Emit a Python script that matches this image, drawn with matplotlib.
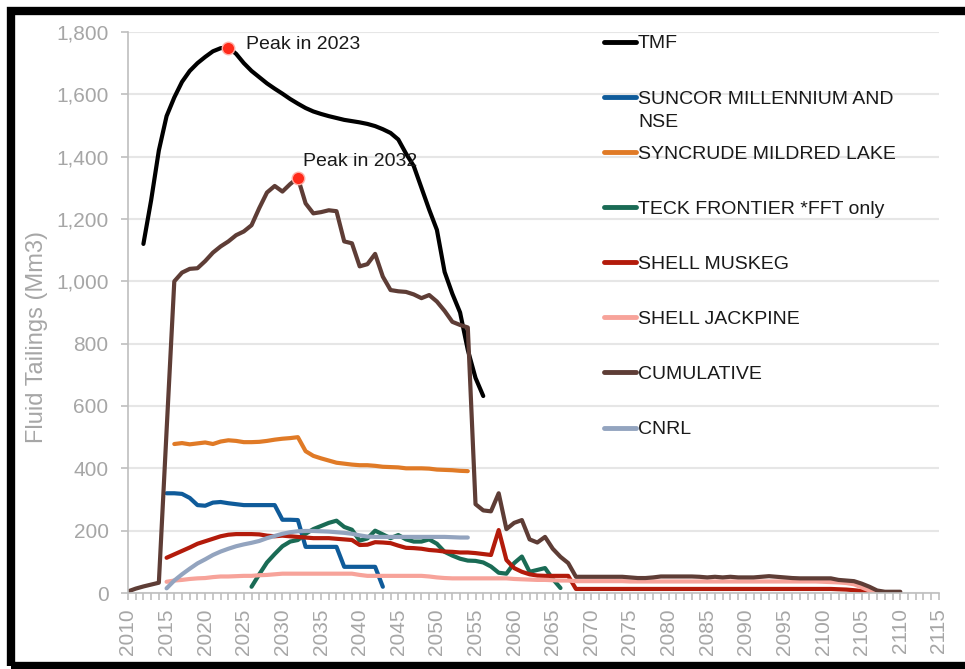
import matplotlib

matplotlib.use("Agg")

import matplotlib.pyplot as plt  # noqa: E402
import numpy as np  # noqa: E402
from matplotlib.patches import Rectangle  # noqa: E402
from matplotlib.ticker import MultipleLocator, StrMethodFormatter  # noqa: E402

plt.rcParams["font.family"] = ["Liberation Sans", "DejaVu Sans"]

# 数据（从图上读出，按年）
tmf_start = 2012
tmf = [1120, 1260, 1420, 1530, 1590, 1640, 1675, 1700, 1720, 1738,
       1748, 1750, 1730, 1700, 1675, 1655, 1635, 1618, 1602, 1585,
       1570, 1556, 1545, 1537, 1530, 1524, 1518, 1514, 1510, 1505,
       1498, 1488, 1476, 1455, 1410, 1370, 1300, 1230, 1165, 1030,
       960, 900, 780, 690, 632]

suncor_start = 2015
suncor = [320, 320, 318, 305, 282, 280, 290, 292, 288, 285,
          282, 282, 282, 282, 282, 235, 235, 234, 148, 148,
          148, 148, 148, 84, 84, 84, 84, 84, 20]

syncrude_start = 2016
syncrude = [478, 481, 477, 480, 483, 478, 486, 490, 488, 484,
            484, 485, 488, 492, 495, 497, 500, 455, 440, 432,
            425, 418, 415, 412, 410, 410, 408, 405, 404, 403,
            400, 400, 400, 399, 396, 395, 394, 392, 391]

teck_start = 2026
teck = [20, 60, 98, 125, 150, 165, 170, 190, 205, 215,
        225, 232, 212, 203, 168, 175, 200, 188, 176, 186,
        172, 165, 165, 172, 158, 132, 120, 110, 104, 103,
        98, 85, 65, 62, 96, 117, 68, 74, 80, 45,
        16]

muskeg_start = 2015
muskeg = [113, 124, 135, 146, 158, 166, 174, 182, 187, 189,
          189, 189, 188, 184, 182, 184, 182, 180, 178, 176,
          176, 176, 174, 172, 170, 154, 155, 163, 162, 160,
          152, 145, 144, 142, 138, 136, 133, 132, 130, 130,
          128, 125, 122, 202, 106, 80, 68, 60, 56, 55,
          55, 55, 55, 13, 13, 13, 13, 13, 13, 13,
          13, 13, 13, 13, 13, 13, 13, 13, 13, 13,
          13, 13, 13, 13, 13, 13, 13, 13, 13, 13,
          13, 13, 13, 13, 13, 13, 13, 12, 11, 9,
          6, 3]

jackpine_start = 2015
jackpine = [36, 40, 42, 45, 47, 48, 51, 53, 53, 54,
            55, 55, 57, 58, 60, 62, 62, 62, 62, 62,
            62, 62, 62, 62, 62, 58, 55, 55, 55, 55,
            55, 55, 55, 55, 53, 50, 48, 47, 47, 47,
            47, 47, 47, 47, 47, 45, 44, 43, 42, 42,
            41, 40, 40, 38, 38, 38, 38, 38, 38, 38,
            37, 37, 37, 37, 37, 37, 37, 37, 37, 37,
            37, 37, 37, 37, 37, 37, 37, 37, 37, 37,
            37, 37, 37, 37, 37, 36, 35, 34, 32, 28,
            18, 8, 2]

cumulative_start = 2010
cumulative = [5, 14, 21, 27, 33, 520, 1000, 1028, 1040, 1042,
              1065, 1092, 1112, 1128, 1148, 1160, 1180, 1235, 1285, 1306,
              1288, 1312, 1332, 1250, 1218, 1222, 1228, 1225, 1128, 1122,
              1048, 1055, 1088, 1015, 972, 968, 966, 958, 946, 956,
              935, 905, 870, 860, 852, 285, 265, 262, 320, 205,
              225, 234, 172, 162, 180, 142, 116, 96, 52, 52,
              52, 52, 52, 52, 52, 50, 48, 48, 50, 53,
              53, 53, 53, 53, 52, 50, 52, 50, 52, 50,
              50, 50, 52, 54, 52, 50, 48, 47, 47, 47,
              47, 47, 42, 40, 38, 30, 20, 8, 4, 4,
              4]

cnrl_start = 2015
cnrl = [15, 40, 60, 78, 95, 108, 122, 133, 142, 150,
        156, 161, 167, 176, 183, 190, 195, 198, 199, 199,
        198, 197, 195, 193, 190, 185, 181, 180, 180, 180,
        180, 180, 180, 180, 180, 180, 180, 179, 178, 178]

labels = ["TMF", "SUNCOR MILLENNIUM AND", "SYNCRUDE MILDRED LAKE",
          "TECK FRONTIER *FFT only", "SHELL MUSKEG", "SHELL JACKPINE",
          "CUMULATIVE", "CNRL"]
colors = ["#000000", "#0F5B9A", "#E07A26", "#1A6B55",
          "#B31B0B", "#F7A39A", "#5E3D36", "#93A4BF"]

peak_years = [2023, 2032]
peak_values = [1750, 1332]
peak_labels = ["Peak in 2023", "Peak in 2032"]

series = [(tmf_start, tmf), (suncor_start, suncor), (syncrude_start, syncrude),
          (teck_start, teck), (muskeg_start, muskeg), (jackpine_start, jackpine),
          (cumulative_start, cumulative), (cnrl_start, cnrl)]

GRAY = "#A6A6A6"

fig = plt.figure(figsize=(9.65, 6.69), dpi=100)
ax = fig.add_axes([0.1326, 0.1136, 0.8404, 0.8386])

for (start, vals), lab, col in zip(series, labels, colors):
    years = np.arange(start, start + len(vals))
    ax.plot(years, vals, color=col, lw=3, label=lab, solid_joinstyle="round",
            solid_capstyle="round")

# 峰值标记
ax.plot(peak_years, peak_values, "o", color="#FF2A1A", ms=9, mec="#FFB0A8",
        mew=1, zorder=5, linestyle="none")
ax.annotate(peak_labels[0], (peak_years[0], peak_values[0]), xytext=(13, 2),
            textcoords="offset points", fontsize=14, color="#1A1A1A", va="center")
ax.annotate(peak_labels[1], (peak_years[1], peak_values[1]), xytext=(4, 12),
            textcoords="offset points", fontsize=14, color="#1A1A1A", va="center")

ax.set_xlim(2010, 2115)
ax.set_ylim(0, 1800)
ax.xaxis.set_major_locator(MultipleLocator(5))
ax.xaxis.set_minor_locator(MultipleLocator(1))
ax.yaxis.set_major_locator(MultipleLocator(200))
ax.yaxis.set_major_formatter(StrMethodFormatter("{x:,.0f}"))

ax.grid(axis="y", color="#E6E6E6", lw=1.5)
ax.set_axisbelow(True)
for side in ("top", "right"):
    ax.spines[side].set_visible(False)
for side in ("left", "bottom"):
    ax.spines[side].set_color("#BFBFBF")
    ax.spines[side].set_linewidth(1.2)

ax.tick_params(axis="both", which="both", color="#BFBFBF", length=5, width=1.2,
               labelcolor=GRAY, labelsize=15)
ax.tick_params(axis="x", which="both", pad=6)
ax.tick_params(axis="y", pad=9)
plt.setp(ax.get_xticklabels(), rotation=90)

ax.set_ylabel("Fluid Tailings (Mm3)", fontsize=17, color=GRAY)
ax.yaxis.set_label_coords(-0.098, 0.456)

leg = ax.legend(loc="upper left", bbox_to_anchor=(0.587, 0.995), frameon=False,
                fontsize=14, handlelength=1.65, handletextpad=0.1,
                labelspacing=1.93, borderpad=0, borderaxespad=0)
for line in leg.get_lines():
    line.set_linewidth(3.5)
for t in leg.get_texts():
    t.set_color("#1A1A1A")
# SUNCOR 图例第二行
ax.annotate("NSE", xy=(0, 0), xycoords=leg.get_texts()[1], xytext=(0, -5),
            textcoords="offset points", va="top", ha="left", fontsize=14,
            color="#1A1A1A", zorder=10)

# 外框（左、上、下）
fig.add_artist(Rectangle((0.0109, 0.0045), 1.05, 0.979, transform=fig.transFigure,
                         fill=False, edgecolor="black", lw=6, clip_on=False))

fig.savefig("out.png", dpi=100)
